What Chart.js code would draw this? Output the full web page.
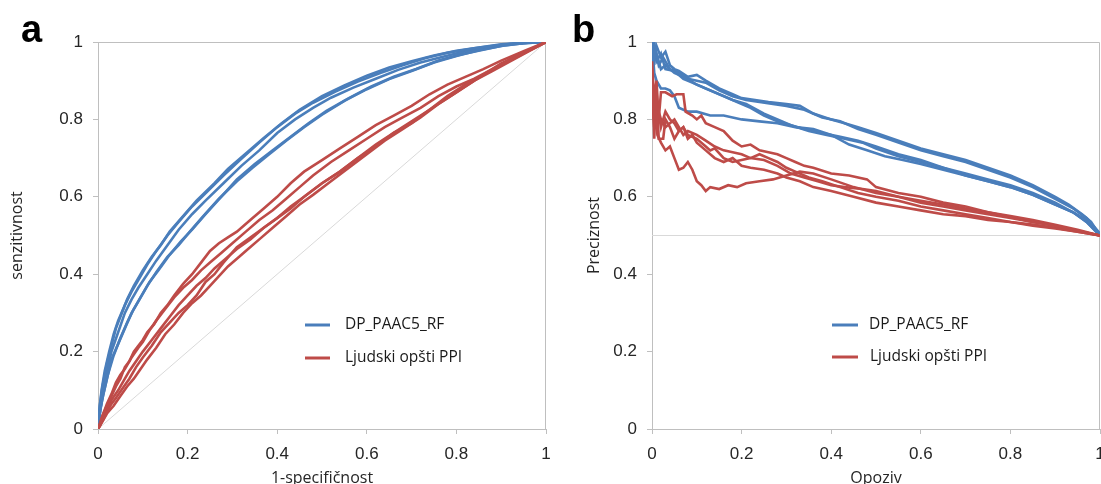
<!DOCTYPE html>
<html>
<head>
<meta charset="utf-8">
<script src="https://cdn.jsdelivr.net/npm/chart.js@4.4.1/dist/chart.umd.min.js"></script>
<style>
  body { margin: 0; background: #fff; width: 1101px; height: 484px; overflow: hidden; position: relative; }
  .panel { position: absolute; top: 0; height: 484px; }
  #pa { left: 0; width: 560px; }
  #pb { left: 560px; width: 541px; }
  .tag { position: absolute; font: bold 38px 'Liberation Sans', Arial, sans-serif; line-height: 1; color: #000; }
</style>
</head>
<body>
<div class="panel" id="pa"><canvas id="rocChart" width="560" height="484"></canvas></div>
<div class="panel" id="pb"><canvas id="prChart" width="541" height="484"></canvas></div>
<div class="tag" style="left:21px;top:10px">a</div>
<div class="tag" style="left:572px;top:10px">b</div>
<script>
// legend names, one per model
const seriesNames = ['DP_PAAC5_RF', 'Ljudski opšti PPI'];

// panel a: ROC, [1-specificity, sensitivity]
const rocBlue1 = [[0,0],[0.004,0.06],[0.01,0.11],[0.02,0.17],[0.03,0.215],[0.04,0.26],[0.05,0.29],[0.065,0.335],[0.08,0.37],[0.1,0.41],[0.12,0.445],[0.14,0.475],[0.16,0.51],[0.19,0.55],[0.22,0.59],[0.26,0.635],[0.29,0.672],[0.33,0.712],[0.37,0.752],[0.41,0.79],[0.45,0.825],[0.5,0.86],[0.55,0.888],[0.6,0.913],[0.65,0.934],[0.7,0.95],[0.75,0.965],[0.8,0.977],[0.85,0.986],[0.9,0.994],[0.95,0.998],[1,1]];
const rocBlue2 = [[0,0],[0.003,0.05],[0.008,0.1],[0.015,0.15],[0.025,0.2],[0.035,0.245],[0.045,0.28],[0.06,0.32],[0.075,0.355],[0.09,0.385],[0.11,0.425],[0.13,0.46],[0.155,0.5],[0.18,0.535],[0.21,0.575],[0.245,0.615],[0.28,0.655],[0.32,0.698],[0.36,0.74],[0.4,0.78],[0.44,0.815],[0.48,0.843],[0.53,0.872],[0.58,0.898],[0.63,0.92],[0.68,0.94],[0.73,0.958],[0.78,0.972],[0.84,0.984],[0.9,0.993],[0.95,0.998],[1,1]];
const rocBlue3 = [[0,0],[0.005,0.05],[0.012,0.1],[0.02,0.15],[0.03,0.2],[0.045,0.25],[0.06,0.3],[0.075,0.335],[0.09,0.365],[0.11,0.4],[0.13,0.435],[0.155,0.475],[0.18,0.515],[0.21,0.555],[0.24,0.59],[0.28,0.635],[0.32,0.68],[0.36,0.72],[0.4,0.765],[0.44,0.8],[0.48,0.83],[0.52,0.856],[0.57,0.882],[0.62,0.905],[0.67,0.928],[0.72,0.947],[0.77,0.962],[0.82,0.976],[0.87,0.987],[0.92,0.995],[1,1]];
const rocBlue4 = [[0,0],[0.004,0.04],[0.01,0.08],[0.02,0.13],[0.03,0.18],[0.045,0.22],[0.06,0.26],[0.075,0.3],[0.09,0.33],[0.11,0.37],[0.13,0.405],[0.155,0.445],[0.18,0.475],[0.205,0.51],[0.235,0.55],[0.27,0.595],[0.31,0.64],[0.345,0.675],[0.38,0.708],[0.42,0.745],[0.46,0.78],[0.5,0.812],[0.55,0.848],[0.6,0.878],[0.65,0.904],[0.7,0.925],[0.75,0.947],[0.8,0.964],[0.85,0.979],[0.9,0.99],[0.95,0.997],[1,1]];
const rocBlue5 = [[0,0],[0.005,0.05],[0.012,0.09],[0.022,0.14],[0.035,0.19],[0.05,0.235],[0.065,0.275],[0.08,0.31],[0.095,0.34],[0.115,0.38],[0.135,0.41],[0.16,0.45],[0.185,0.485],[0.21,0.515],[0.24,0.555],[0.275,0.6],[0.31,0.645],[0.35,0.685],[0.39,0.72],[0.43,0.755],[0.47,0.79],[0.51,0.822],[0.56,0.855],[0.61,0.885],[0.66,0.91],[0.71,0.93],[0.76,0.952],[0.81,0.968],[0.86,0.98],[0.91,0.992],[0.96,0.998],[1,1]];
const rocRed1 = [[0,0],[0.005,0.015],[0.01,0.035],[0.02,0.06],[0.03,0.085],[0.04,0.11],[0.05,0.13],[0.06,0.16],[0.07,0.175],[0.08,0.2],[0.09,0.215],[0.1,0.23],[0.11,0.25],[0.125,0.27],[0.14,0.3],[0.155,0.32],[0.17,0.345],[0.19,0.375],[0.21,0.4],[0.23,0.43],[0.25,0.46],[0.27,0.48],[0.29,0.495],[0.31,0.51],[0.34,0.54],[0.37,0.57],[0.4,0.6],[0.43,0.635],[0.46,0.665],[0.5,0.695],[0.54,0.725],[0.58,0.755],[0.62,0.785],[0.66,0.81],[0.7,0.835],[0.74,0.865],[0.78,0.89],[0.82,0.91],[0.86,0.93],[0.9,0.952],[0.95,0.976],[1,1]];
const rocRed2 = [[0,0],[0.006,0.02],[0.012,0.04],[0.02,0.065],[0.03,0.09],[0.04,0.12],[0.05,0.14],[0.06,0.155],[0.075,0.185],[0.09,0.21],[0.1,0.225],[0.115,0.255],[0.13,0.28],[0.15,0.31],[0.17,0.34],[0.19,0.365],[0.21,0.385],[0.23,0.41],[0.25,0.43],[0.275,0.455],[0.3,0.48],[0.33,0.51],[0.36,0.54],[0.39,0.565],[0.42,0.595],[0.45,0.625],[0.48,0.655],[0.52,0.69],[0.56,0.72],[0.6,0.75],[0.64,0.78],[0.68,0.805],[0.72,0.83],[0.76,0.86],[0.8,0.885],[0.84,0.905],[0.88,0.93],[0.92,0.955],[0.96,0.978],[1,1]];
const rocRed3 = [[0,0],[0.005,0.01],[0.01,0.03],[0.02,0.055],[0.03,0.075],[0.045,0.1],[0.06,0.13],[0.07,0.15],[0.085,0.175],[0.1,0.2],[0.12,0.23],[0.14,0.26],[0.16,0.29],[0.18,0.32],[0.2,0.345],[0.22,0.37],[0.24,0.39],[0.26,0.415],[0.285,0.44],[0.31,0.465],[0.34,0.49],[0.37,0.52],[0.4,0.545],[0.43,0.57],[0.46,0.6],[0.5,0.635],[0.54,0.665],[0.58,0.7],[0.62,0.73],[0.66,0.765],[0.7,0.79],[0.74,0.825],[0.78,0.86],[0.82,0.89],[0.86,0.915],[0.9,0.94],[0.95,0.97],[1,1]];
const rocRed4 = [[0,0],[0.005,0.01],[0.012,0.025],[0.02,0.045],[0.03,0.065],[0.04,0.08],[0.055,0.105],[0.07,0.13],[0.085,0.16],[0.1,0.185],[0.12,0.215],[0.14,0.25],[0.16,0.275],[0.18,0.3],[0.2,0.32],[0.22,0.345],[0.24,0.38],[0.26,0.4],[0.28,0.43],[0.31,0.47],[0.34,0.495],[0.37,0.52],[0.4,0.545],[0.43,0.575],[0.46,0.6],[0.5,0.635],[0.54,0.665],[0.58,0.7],[0.62,0.735],[0.66,0.765],[0.7,0.795],[0.74,0.825],[0.78,0.855],[0.82,0.885],[0.86,0.915],[0.9,0.945],[0.95,0.972],[1,1]];
const rocRed5 = [[0,0],[0.01,0.02],[0.02,0.04],[0.035,0.06],[0.05,0.085],[0.065,0.11],[0.08,0.13],[0.095,0.155],[0.11,0.18],[0.13,0.21],[0.15,0.245],[0.17,0.27],[0.19,0.3],[0.21,0.325],[0.23,0.345],[0.25,0.37],[0.27,0.395],[0.29,0.42],[0.31,0.44],[0.335,0.465],[0.36,0.49],[0.39,0.52],[0.42,0.55],[0.45,0.58],[0.48,0.605],[0.52,0.64],[0.56,0.675],[0.6,0.71],[0.64,0.745],[0.68,0.775],[0.72,0.805],[0.76,0.84],[0.8,0.87],[0.84,0.9],[0.88,0.925],[0.92,0.95],[0.96,0.975],[1,1]];
const rocChance = [[0,0],[1,1]];

// panel b: precision-recall, [recall, precision]
const prBlue1 = [[0,1],[0.005,0.95],[0.01,0.99],[0.02,0.96],[0.03,0.975],[0.04,0.94],[0.05,0.93],[0.06,0.925],[0.08,0.91],[0.1,0.915],[0.12,0.9],[0.15,0.88],[0.18,0.865],[0.2,0.855],[0.23,0.85],[0.26,0.845],[0.3,0.84],[0.33,0.835],[0.36,0.815],[0.4,0.8],[0.43,0.79],[0.46,0.78],[0.5,0.765],[0.55,0.745],[0.6,0.725],[0.65,0.71],[0.7,0.695],[0.75,0.675],[0.8,0.655],[0.85,0.63],[0.9,0.6],[0.93,0.58],[0.96,0.555],[0.98,0.535],[1,0.5]];
const prBlue2 = [[0,0.97],[0.008,0.98],[0.015,0.94],[0.025,0.96],[0.04,0.93],[0.06,0.92],[0.08,0.905],[0.1,0.9],[0.12,0.895],[0.15,0.875],[0.18,0.86],[0.21,0.85],[0.24,0.845],[0.27,0.84],[0.3,0.835],[0.34,0.825],[0.38,0.805],[0.42,0.795],[0.46,0.775],[0.5,0.76],[0.55,0.74],[0.6,0.72],[0.65,0.705],[0.7,0.69],[0.75,0.67],[0.8,0.65],[0.85,0.625],[0.9,0.595],[0.94,0.57],[0.97,0.545],[1,0.505]];
const prBlue3 = [[0,0.98],[0.005,1],[0.01,0.95],[0.02,0.97],[0.03,0.93],[0.05,0.925],[0.07,0.905],[0.09,0.895],[0.12,0.88],[0.15,0.865],[0.18,0.85],[0.21,0.84],[0.25,0.815],[0.28,0.8],[0.31,0.785],[0.34,0.775],[0.38,0.765],[0.42,0.755],[0.46,0.745],[0.5,0.73],[0.55,0.71],[0.6,0.695],[0.65,0.675],[0.7,0.66],[0.75,0.645],[0.8,0.63],[0.85,0.61],[0.9,0.585],[0.94,0.56],[0.97,0.54],[1,0.5]];
const prBlue4 = [[0,0.95],[0.01,0.97],[0.02,0.93],[0.03,0.94],[0.05,0.92],[0.07,0.91],[0.1,0.89],[0.13,0.875],[0.16,0.86],[0.19,0.845],[0.22,0.83],[0.25,0.81],[0.28,0.795],[0.31,0.785],[0.35,0.77],[0.39,0.76],[0.43,0.75],[0.47,0.74],[0.5,0.725],[0.55,0.705],[0.6,0.69],[0.65,0.675],[0.7,0.655],[0.75,0.64],[0.8,0.625],[0.85,0.605],[0.9,0.58],[0.94,0.56],[0.97,0.535],[1,0.5]];
const prBlue5 = [[0,1],[0.005,0.92],[0.01,0.9],[0.02,0.88],[0.03,0.88],[0.04,0.875],[0.05,0.86],[0.06,0.83],[0.08,0.82],[0.1,0.82],[0.13,0.81],[0.16,0.81],[0.2,0.8],[0.24,0.795],[0.28,0.79],[0.32,0.78],[0.36,0.775],[0.4,0.76],[0.44,0.735],[0.48,0.72],[0.52,0.705],[0.56,0.695],[0.6,0.685],[0.65,0.67],[0.7,0.655],[0.75,0.64],[0.8,0.625],[0.85,0.605],[0.9,0.58],[0.94,0.56],[0.97,0.535],[1,0.5]];
const prRed1 = [[0,0.92],[0.004,0.8],[0.008,0.88],[0.012,0.76],[0.02,0.74],[0.03,0.72],[0.04,0.73],[0.05,0.7],[0.06,0.67],[0.07,0.675],[0.08,0.69],[0.09,0.67],[0.1,0.64],[0.11,0.63],[0.12,0.615],[0.13,0.625],[0.15,0.62],[0.17,0.63],[0.19,0.625],[0.21,0.635],[0.24,0.64],[0.27,0.645],[0.3,0.655],[0.33,0.665],[0.36,0.66],[0.4,0.645],[0.45,0.625],[0.5,0.61],[0.55,0.6],[0.6,0.585],[0.65,0.575],[0.7,0.565],[0.75,0.555],[0.8,0.545],[0.85,0.535],[0.9,0.525],[0.95,0.512],[1,0.5]];
const prRed2 = [[0,0.95],[0.005,0.85],[0.01,0.9],[0.015,0.8],[0.02,0.87],[0.03,0.87],[0.045,0.86],[0.055,0.865],[0.07,0.865],[0.075,0.82],[0.09,0.81],[0.1,0.8],[0.11,0.81],[0.12,0.79],[0.14,0.78],[0.16,0.77],[0.18,0.745],[0.2,0.73],[0.22,0.735],[0.24,0.72],[0.26,0.715],[0.28,0.71],[0.3,0.7],[0.32,0.69],[0.34,0.68],[0.36,0.675],[0.4,0.66],[0.44,0.655],[0.48,0.645],[0.5,0.625],[0.55,0.61],[0.6,0.6],[0.65,0.585],[0.7,0.575],[0.75,0.56],[0.8,0.55],[0.85,0.54],[0.9,0.528],[0.95,0.515],[1,0.5]];
const prRed3 = [[0,0.93],[0.005,0.75],[0.01,0.88],[0.015,0.75],[0.025,0.75],[0.03,0.8],[0.04,0.78],[0.05,0.75],[0.06,0.77],[0.07,0.78],[0.08,0.75],[0.09,0.76],[0.1,0.74],[0.12,0.72],[0.14,0.7],[0.16,0.69],[0.18,0.7],[0.2,0.68],[0.22,0.675],[0.25,0.67],[0.28,0.66],[0.3,0.65],[0.33,0.64],[0.36,0.625],[0.4,0.615],[0.45,0.6],[0.5,0.585],[0.55,0.575],[0.6,0.565],[0.65,0.555],[0.7,0.55],[0.75,0.54],[0.8,0.535],[0.85,0.525],[0.9,0.518],[0.95,0.51],[1,0.5]];
const prRed4 = [[0,0.9],[0.005,0.8],[0.01,0.85],[0.02,0.78],[0.03,0.82],[0.04,0.8],[0.05,0.79],[0.06,0.77],[0.07,0.78],[0.08,0.76],[0.1,0.75],[0.12,0.73],[0.13,0.72],[0.14,0.725],[0.16,0.7],[0.18,0.69],[0.2,0.695],[0.22,0.7],[0.24,0.71],[0.26,0.7],[0.28,0.69],[0.3,0.675],[0.32,0.665],[0.35,0.65],[0.38,0.64],[0.42,0.625],[0.46,0.61],[0.5,0.6],[0.55,0.59],[0.6,0.575],[0.65,0.565],[0.7,0.555],[0.75,0.545],[0.8,0.535],[0.85,0.528],[0.9,0.52],[0.95,0.51],[1,0.5]];
const prRed5 = [[0,0.88],[0.005,0.78],[0.01,0.84],[0.02,0.8],[0.03,0.78],[0.04,0.79],[0.05,0.8],[0.06,0.78],[0.07,0.76],[0.08,0.77],[0.1,0.76],[0.12,0.745],[0.14,0.73],[0.16,0.72],[0.18,0.715],[0.2,0.71],[0.22,0.7],[0.25,0.695],[0.28,0.68],[0.31,0.66],[0.34,0.65],[0.37,0.64],[0.4,0.63],[0.43,0.625],[0.47,0.62],[0.5,0.615],[0.55,0.6],[0.6,0.59],[0.65,0.58],[0.7,0.57],[0.75,0.56],[0.8,0.548],[0.85,0.535],[0.9,0.525],[0.95,0.512],[1,0.5]];
const prBaseline = [[0,0.5],[1,0.5]];

const blue = '#4a7ebb';
const red = '#be4b48';
const axisGray = '#bfbfbf';
const textColor = '#262626';
const seriesColors = [blue, red];

const tickFont = { family: "'Liberation Sans', Arial, sans-serif", size: 17 };
const titleFont = { family: "'Open Sans', sans-serif", size: 16, lineHeight: 1 };

function curve(points, color, width) {
  return {
    data: points.map(([x, y]) => ({ x, y })),
    borderColor: color,
    borderWidth: width,
    pointRadius: 0,
    tension: 0,
    fill: false,
  };
}

// top and right edges of the plot box
const framePlugin = {
  id: 'frame',
  beforeDatasetsDraw(chart) {
    const { ctx, chartArea } = chart;
    const top = Math.round(chartArea.top) + 0.5;
    const right = Math.round(chartArea.right) - 0.5;
    ctx.save();
    ctx.strokeStyle = axisGray;
    ctx.lineWidth = 1;
    ctx.beginPath();
    ctx.moveTo(chartArea.left, top);
    ctx.lineTo(right, top);
    ctx.lineTo(right, chartArea.bottom);
    ctx.stroke();
    ctx.restore();
  },
};

// legend box inside the plot
const legendPlugin = {
  id: 'curveLegend',
  afterDatasetsDraw(chart, args, opts) {
    const { ctx, chartArea } = chart;
    ctx.save();
    ctx.font = "15.5px 'Open Sans', sans-serif";
    ctx.textBaseline = 'middle';
    ctx.fillStyle = '#1a1a1a';
    seriesNames.forEach((name, i) => {
      const y = chartArea.top + opts.top + i * opts.rowGap;
      const x0 = chartArea.left + opts.left;
      ctx.strokeStyle = seriesColors[i];
      ctx.lineWidth = 3;
      ctx.beginPath();
      ctx.moveTo(x0, y);
      ctx.lineTo(x0 + opts.lineLen, y);
      ctx.stroke();
      ctx.fillText(name, chartArea.left + opts.textLeft + (i ? opts.textShift : 0), y);
    });
    ctx.restore();
  },
};

const fmtTick = (v) => String(Number(v.toFixed(2)));

function makeChart(canvas, curves, reference, xTitle, yTitle, yAxisWidth, yTitlePad, rightPad, legendPos) {
  const datasets = [];
  curves.red.forEach(p => datasets.push(curve(p, red, 2.6)));
  curves.blue.forEach(p => datasets.push(curve(p, blue, 2.6)));
  datasets.push(curve(reference, '#d9d9d9', 1));

  return new Chart(canvas, {
    type: 'line',
    data: { datasets },
    options: {
      responsive: false,
      animation: false,
      events: [],
      layout: { padding: { left: 0, right: rightPad, top: 42, bottom: 0 } },
      plugins: { legend: { display: false }, tooltip: { enabled: false }, curveLegend: legendPos },
      scales: {
        x: {
          type: 'linear', min: 0, max: 1,
          ticks: { stepSize: 0.2, font: tickFont, color: textColor, padding: 10, maxRotation: 0, autoSkip: false, callback: fmtTick },
          grid: { drawOnChartArea: false, tickLength: 5, color: axisGray },
          border: { color: axisGray },
          title: { display: true, text: xTitle, font: titleFont, color: textColor, padding: { top: 0, bottom: -2 } },
          afterFit(s) { s.height = 55; s.paddingLeft = 0; s.paddingRight = 0; },
        },
        y: {
          type: 'linear', min: 0, max: 1,
          ticks: { stepSize: 0.2, font: tickFont, color: textColor, padding: 10, callback: fmtTick },
          grid: { drawOnChartArea: false, tickLength: 5, color: axisGray },
          border: { color: axisGray },
          title: { display: true, text: yTitle, font: titleFont, color: textColor, padding: { top: yTitlePad, bottom: 0 } },
          afterFit(s) { s.width = yAxisWidth; s.paddingTop = 0; s.paddingBottom = 0; },
        },
      },
    },
    plugins: [framePlugin, legendPlugin],
  });
}

makeChart(document.getElementById('rocChart'),
  { blue: [rocBlue1, rocBlue2, rocBlue3, rocBlue4, rocBlue5], red: [rocRed1, rocRed2, rocRed3, rocRed4, rocRed5] },
  rocChance, '1-specifičnost', 'senzitivnost', 98, 9, 14,
  { left: 207, lineLen: 25, textLeft: 247, textShift: 0, top: 283, rowGap: 33 });

makeChart(document.getElementById('prChart'),
  { blue: [prBlue1, prBlue2, prBlue3, prBlue4, prBlue5], red: [prRed1, prRed2, prRed3, prRed4, prRed5] },
  prBaseline, 'Opoziv', 'Preciznost', 92, 26, 1,
  { left: 180, lineLen: 26, textLeft: 217, textShift: 1, top: 283, rowGap: 32 });
</script>
</body>
</html>
